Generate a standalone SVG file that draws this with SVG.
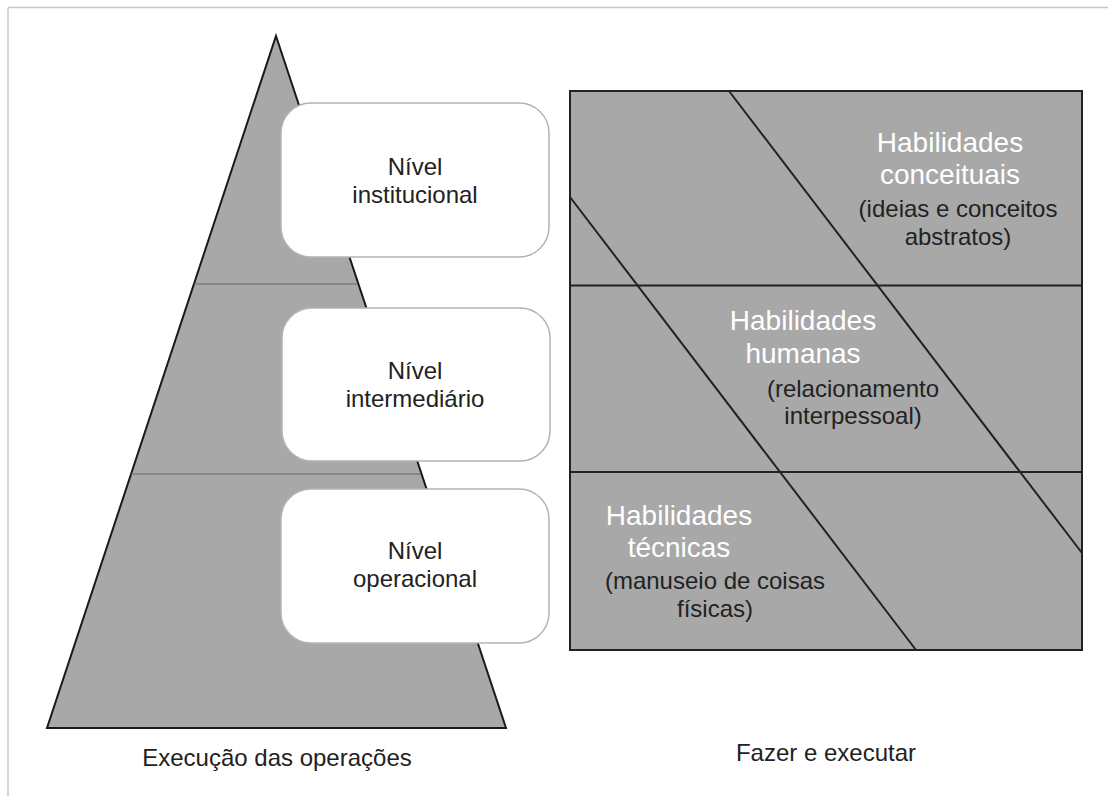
<svg xmlns="http://www.w3.org/2000/svg" width="1108" height="796" viewBox="0 0 1108 796">
  <style>
    .t { font-family: "Liberation Sans", Arial, sans-serif; text-anchor: middle; }
    .lbl { font-size: 24px; fill: #222; }
    .wht { font-size: 28px; fill: #ffffff; }
    .box { fill: #ffffff; stroke: #b4b4b4; stroke-width: 1.5; }
    .div { stroke: #222; stroke-width: 2; fill: none; }
  </style>
  <rect width="1108" height="796" fill="#ffffff"/>
  <g id="frame" stroke="#c8c8c8" stroke-width="1.5">
    <line x1="8" y1="7.5" x2="1108" y2="7.5"/>
    <line x1="8" y1="7.5" x2="8" y2="796"/>
  </g>

  <g id="pyramid">
    <polygon points="276,36 506,728 47,728" fill="#a8a8a8" stroke="#1a1a1a" stroke-width="2" stroke-linejoin="miter"/>
    <line x1="194" y1="284" x2="358" y2="284" stroke="#666" stroke-width="1"/>
    <line x1="131" y1="474" x2="421" y2="474" stroke="#666" stroke-width="1"/>
  </g>

  <g id="node-institucional">
    <rect class="box" x="281" y="103" width="268" height="154" rx="30" ry="30"/>
    <text class="t lbl" x="415" y="175">Nível</text>
    <text class="t lbl" x="415" y="203">institucional</text>
  </g>
  <g id="node-intermediario">
    <rect class="box" x="282" y="308" width="268" height="153" rx="30" ry="30"/>
    <text class="t lbl" x="415" y="379">Nível</text>
    <text class="t lbl" x="415" y="407">intermediário</text>
  </g>
  <g id="node-operacional">
    <rect class="box" x="281" y="489" width="268" height="154" rx="30" ry="30"/>
    <text class="t lbl" x="415" y="559">Nível</text>
    <text class="t lbl" x="415" y="587">operacional</text>
  </g>

  <g id="skills-chart">
    <rect x="570" y="91" width="512" height="559" fill="#a8a8a8" stroke="#222" stroke-width="2"/>
  </g>
  <g id="connectors">
    <line class="div" x1="570" y1="285.5" x2="1082" y2="285.5"/>
    <line class="div" x1="570" y1="472" x2="1082" y2="472"/>
    <line class="div" x1="729" y1="91" x2="1082" y2="553"/>
    <line class="div" x1="570" y1="197" x2="916" y2="650"/>
  </g>

  <g id="node-conceituais">
    <text class="t wht" x="950" y="152">Habilidades</text>
    <text class="t wht" x="950" y="184">conceituais</text>
    <text class="t lbl" x="958" y="217">(ideias e conceitos</text>
    <text class="t lbl" x="958" y="245">abstratos)</text>
  </g>
  <g id="node-humanas">
    <text class="t wht" x="803" y="330">Habilidades</text>
    <text class="t wht" x="803" y="363">humanas</text>
    <text class="t lbl" x="853" y="397">(relacionamento</text>
    <text class="t lbl" x="853" y="424">interpessoal)</text>
  </g>
  <g id="node-tecnicas">
    <text class="t wht" x="679" y="525">Habilidades</text>
    <text class="t wht" x="679" y="557">técnicas</text>
    <text class="t lbl" x="715" y="589">(manuseio de coisas</text>
    <text class="t lbl" x="715" y="617">físicas)</text>
  </g>

  <g id="captions">
    <text class="t lbl" x="277" y="766">Execução das operações</text>
    <text class="t lbl" x="826" y="761">Fazer e executar</text>
  </g>
</svg>
